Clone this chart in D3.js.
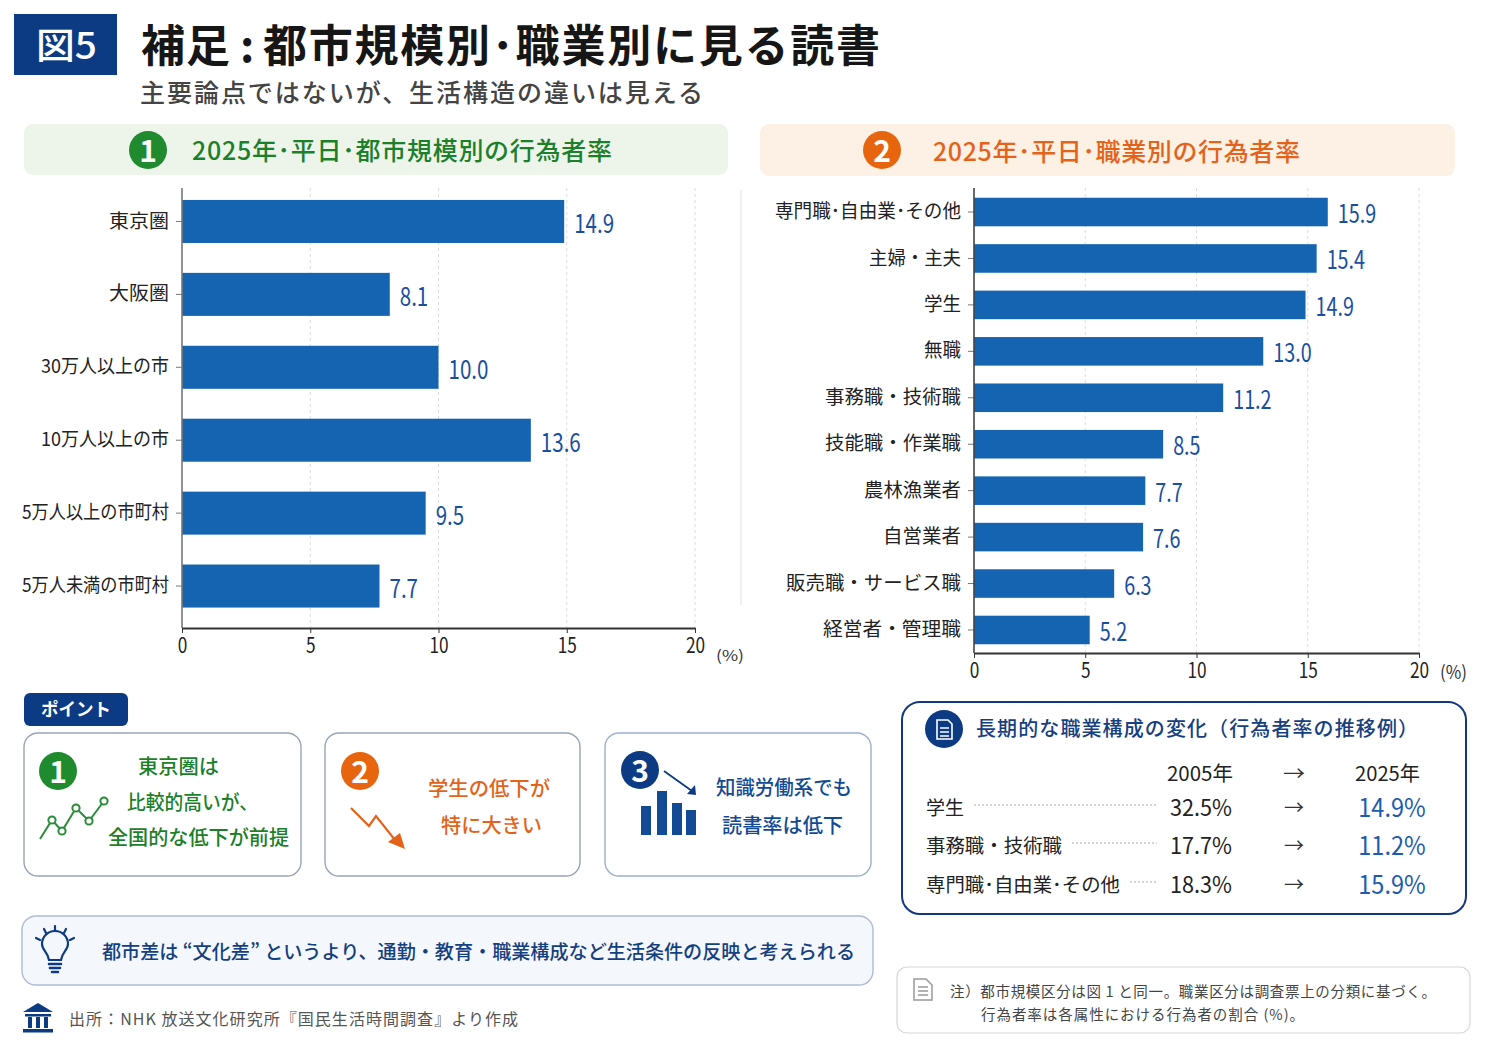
<!DOCTYPE html>
<html lang="ja">
<head>
<meta charset="utf-8">
<title>補足:都市規模別・職業別に見る読書</title>
<script src="https://cdn.jsdelivr.net/npm/d3@7"></script>
<style>
  html, body { margin: 0; padding: 0; background: #fff; }
  svg { display: block; }
  text { font-family: "Noto Sans CJK JP", "Noto Sans", sans-serif; }
</style>
</head>
<body>
<svg id="page" width="1491" height="1055" viewBox="0 0 1491 1055"></svg>
<script>
// 都市規模別の行為者率(2025年・平日)
const cityCategories = ["東京圏", "大阪圏", "30万人以上の市", "10万人以上の市", "5万人以上の市町村", "5万人未満の市町村"];
const cityValues = [14.9, 8.1, 10.0, 13.6, 9.5, 7.7];

// 職業別の行為者率(2025年・平日)
const jobCategories = ["専門職\uFF65自由業\uFF65その他", "主婦・主夫", "学生", "無職", "事務職・技術職", "技能職・作業職", "農林漁業者", "自営業者", "販売職・サービス職", "経営者・管理職"];
const jobValues = [15.9, 15.4, 14.9, 13.0, 11.2, 8.5, 7.7, 7.6, 6.3, 5.2];

const axisTicks = [0, 5, 10, 15, 20];

// 長期推移の表
const trendLabels = ["学生", "事務職・技術職", "専門職\uFF65自由業\uFF65その他"];
const trend2005 = [32.5, 17.7, 18.3];
const trend2025 = [14.9, 11.2, 15.9];

// 軸ラベルの表示幅(px)
const cityLabelWidths = [60, 60, 128, 128, 147, 147];
const jobLabelWidths = [186, 92, 37, 37, 136, 136, 97, 78, 175, 138];

const NAVY = "#0c3b84", BAR = "#1464b2", VALUE = "#1a4f9f", GREEN = "#1c7f2a", ORANGE = "#e4631a";

const svg = d3.select("#page");

// x1..x2 の幅に字幅を合わせるテキスト描画
function label(parent, text, x1, x2, cy, size, fill, weight, adjust) {
  return parent.append("text")
    .attr("x", x1).attr("y", cy - 1)
    .attr("dominant-baseline", "central")
    .attr("font-size", size).attr("font-weight", weight || 400)
    .attr("fill", fill)
    .attr("textLength", x2 - x1).attr("lengthAdjust", adjust || "spacingAndGlyphs")
    .text(text);
}
// 数字をやや縦長に見せるための字幅調整
function condense(sel, k) {
  sel.each(function () {
    const w = this.getComputedTextLength();
    d3.select(this).attr("textLength", w * k).attr("lengthAdjust", "spacingAndGlyphs");
  });
}
function badge(parent, cx, cy, r, fill, text, size) {
  parent.append("circle").attr("cx", cx).attr("cy", cy).attr("r", r).attr("fill", fill);
  parent.append("text").attr("x", cx).attr("y", cy - 1).attr("text-anchor", "middle")
    .attr("dominant-baseline", "central").attr("font-size", size).attr("font-weight", 700)
    .attr("fill", "#fff").text(text);
}
function box(parent, x, y, w, h, r, fill, stroke, sw) {
  parent.append("rect").attr("x", x).attr("y", y).attr("width", w).attr("height", h).attr("rx", r)
    .attr("fill", fill).attr("stroke", stroke).attr("stroke-width", sw);
}

/* 見出し */
svg.append("rect").attr("x", 14).attr("y", 14).attr("width", 103).attr("height", 61).attr("fill", NAVY);
label(svg, "図5", 36, 97, 44, 36, "#fff", 500);
label(svg, "補足", 141, 230, 44, 44, "#161616", 700, "spacing");
label(svg, ":", 240, 250, 44, 44, "#161616", 700, "spacing");
label(svg, "都市規模別\uFF65職業別に見る読書", 263, 880, 44, 44, "#161616", 700, "spacing");
label(svg, "主要論点ではないが、生活構造の違いは見える", 140, 703, 92, 25, "#444", 500, "spacing");

/* パネル見出し */
box(svg, 24, 124, 704, 51, 9, "#edf4ea", "none", 0);
badge(svg, 148, 150, 19, "#1f8a2e", "1", 30);
label(svg, "2025年\uFF65平日\uFF65都市規模別の行為者率", 192, 612, 150, 25, GREEN, 500, "spacing");
box(svg, 760, 124, 695, 52, 9, "#fdf0e4", "none", 0);
badge(svg, 882, 150, 19, "#e8650f", "2", 30);
label(svg, "2025年\uFF65平日\uFF65職業別の行為者率", 933, 1300, 151, 25, ORANGE, 500, "spacing");

svg.append("line").attr("x1", 741).attr("x2", 741).attr("y1", 190).attr("y2", 605)
  .attr("stroke", "#ebebeb").attr("stroke-width", 1.5);

/* 横棒グラフ */
function barChart(cfg) {
  const g = svg.append("g");
  const x = d3.scaleLinear().domain([0, 20]).range([cfg.x0, cfg.x1]);
  const y = d3.scaleBand().domain(cfg.categories).range([cfg.top, cfg.bottom])
    .paddingInner(cfg.padding).paddingOuter(cfg.padding / 2);

  g.append("g").selectAll("line").data(axisTicks.slice(1)).join("line")
    .attr("x1", d => x(d)).attr("x2", d => x(d))
    .attr("y1", cfg.axisTop).attr("y2", cfg.axisBottom)
    .attr("stroke", "#dcdcdc").attr("stroke-dasharray", "3 3");

  g.append("g").selectAll("rect").data(cfg.values).join("rect")
    .attr("x", x(0)).attr("y", (d, i) => y(cfg.categories[i]))
    .attr("width", d => x(d) - x(0)).attr("height", y.bandwidth())
    .attr("fill", BAR);

  const vals = g.append("g").selectAll("text").data(cfg.values).join("text")
    .attr("x", d => x(d) + 10)
    .attr("y", (d, i) => y(cfg.categories[i]) + y.bandwidth() / 2)
    .attr("dominant-baseline", "central")
    .attr("font-size", cfg.valueSize).attr("fill", VALUE)
    .text(d => d.toFixed(1));
  condense(vals, 0.79);

  const ya = g.append("g").attr("transform", `translate(${x(0)},0)`)
    .call(d3.axisLeft(y).tickSize(6).tickPadding(7));
  ya.select(".domain").remove();
  ya.selectAll(".tick line").attr("stroke", "#777");
  ya.selectAll(".tick text").attr("font-size", 19).attr("fill", "#222")
    .style("font-family", '"Noto Sans CJK JP", sans-serif')
    .attr("textLength", (d, i) => cfg.labelWidths[i]).attr("lengthAdjust", "spacingAndGlyphs");

  g.append("line").attr("x1", x(0)).attr("x2", x(0))
    .attr("y1", cfg.axisTop).attr("y2", cfg.axisBottom)
    .attr("stroke", cfg.spine).attr("stroke-width", 1.6);

  const xa = g.append("g").attr("transform", `translate(0,${cfg.axisBottom})`)
    .call(d3.axisBottom(x).tickValues(axisTicks).tickSize(5).tickPadding(5).tickSizeOuter(0));
  xa.select(".domain").attr("stroke", "#333").attr("stroke-width", 1.8);
  xa.selectAll(".tick line").attr("stroke", "#333");
  xa.selectAll(".tick text").attr("font-size", 21).attr("fill", "#222")
    .style("font-family", '"Noto Sans CJK JP", sans-serif');
  condense(xa.selectAll(".tick text"), 0.82);
}

barChart({
  categories: cityCategories, values: cityValues, labelWidths: cityLabelWidths,
  x0: 182, x1: 695, top: 185, bottom: 622.5, axisTop: 188, axisBottom: 628,
  padding: 0.41, valueSize: 26, spine: "#777"
});
barChart({
  categories: jobCategories, values: jobValues, labelWidths: jobLabelWidths,
  x0: 974, x1: 1419, top: 188.8, bottom: 653.2, axisTop: 188, axisBottom: 653,
  padding: 0.385, valueSize: 25, spine: "#444"
});
label(svg, "(%)", 716, 744, 655, 15, "#333");
label(svg, "(%)", 1440, 1467, 672, 18, "#333");

/* ポイント */
box(svg, 24, 693, 104, 33, 6, NAVY, "none", 0);
label(svg, "ポイント", 41, 111, 709, 18, "#fff", 700);

box(svg, 24, 733, 277, 143, 14, "#fff", "#98a4b6", 1.4);
box(svg, 325, 733, 255, 143, 14, "#fff", "#98a4b6", 1.4);
box(svg, 605, 733, 266, 143, 14, "#fff", "#9db0cc", 1.4);

badge(svg, 58, 771, 19, "#1f8a2e", "1", 30);
label(svg, "東京圏は", 138, 219, 766, 20, GREEN, 500);
label(svg, "比較的高いが、", 127, 258, 802, 20, GREEN, 500);
label(svg, "全国的な低下が前提", 108, 289, 837, 20, GREEN, 500);
// 折れ線のアイコン
const sparkIcon = [[40, 839], [52, 820], [62, 831], [76, 808], [89, 821], [104, 801]];
svg.append("path").attr("d", d3.line()(sparkIcon)).attr("fill", "none").attr("stroke", "#2a8c38").attr("stroke-width", 2);
svg.append("g").selectAll("circle").data(sparkIcon.slice(1)).join("circle")
  .attr("cx", d => d[0]).attr("cy", d => d[1]).attr("r", 3.6)
  .attr("fill", "#fff").attr("stroke", "#2a8c38").attr("stroke-width", 2);

badge(svg, 360, 771, 19, "#e8650f", "2", 30);
label(svg, "学生の低下が", 428, 550, 788, 20, ORANGE, 500);
label(svg, "特に大きい", 441, 542, 825, 20, ORANGE, 500);
svg.append("path").attr("d", "M351 808L369 826L376 816L395 840").attr("fill", "none").attr("stroke", ORANGE).attr("stroke-width", 2.2);
svg.append("path").attr("d", "M405 849L388 842L400 833Z").attr("fill", ORANGE);

badge(svg, 640, 770, 19, NAVY, "3", 30);
label(svg, "知識労働系でも", 716, 852, 787, 20, "#134a94", 500);
label(svg, "読書率は低下", 722, 843, 825, 20, "#134a94", 500);
svg.append("path").attr("d", "M664 771L692 791").attr("stroke", NAVY).attr("stroke-width", 1.8);
svg.append("path").attr("d", "M696 795L695 785L687 794Z").attr("fill", NAVY);
const barIcon = [[641, 806], [657, 791], [672, 803], [686, 810]];
svg.append("g").selectAll("rect").data(barIcon).join("rect")
  .attr("x", d => d[0]).attr("y", d => d[1]).attr("width", 10).attr("height", d => 835 - d[1]).attr("fill", "#134a94");

/* まとめの帯 */
box(svg, 22, 916, 851, 69, 14, "#f4f7fb", "#aebcd6", 1.4);
label(svg, "都市差は “文化差” というより、通勤・教育・職業構成など生活条件の反映と考えられる", 102, 855, 951, 19.5, "#15407f", 500);
const bulb = svg.append("g").attr("fill", "none").attr("stroke", NAVY).attr("stroke-width", 2.2).attr("stroke-linecap", "round");
bulb.append("path").attr("d", "M49 960C48 952 42 950 42 944A13 13 0 0 1 68 944C68 950 62 952 61 960Z");
bulb.append("path").attr("d", "M49 964H61M50 968H60M52 972H58").attr("stroke-width", 2.6);
bulb.append("path").attr("d", "M55 926V931M44 929L46 933M66 929L64 933M36 938L40 940M74 938L70 940");

/* 出所 */
const bank = svg.append("g").attr("fill", NAVY);
bank.append("path").attr("d", "M38 1003L53 1012H23Z");
bank.append("rect").attr("x", 23).attr("y", 1029).attr("width", 30).attr("height", 3.5);
bank.append("rect").attr("x", 25).attr("y", 1014).attr("width", 26).attr("height", 2.5);
[28, 36, 44].forEach(bx => bank.append("rect").attr("x", bx).attr("y", 1017).attr("width", 4).attr("height", 11));
label(svg, "出所\uFF1ANHK 放送文化研究所『国民生活時間調査』より作成", 69, 518, 1019, 16, "#555", 400, "spacing");

/* 推移の表 */
box(svg, 902, 702, 564, 212, 18, "#fff", "#12397f", 2);
svg.append("circle").attr("cx", 944).attr("cy", 729).attr("r", 19).attr("fill", NAVY);
const doc = svg.append("g").attr("fill", "none").attr("stroke", "#fff").attr("stroke-width", 1.6);
doc.append("path").attr("d", "M937 720H948L952 724V739H937Z");
doc.append("path").attr("d", "M940 728H949M940 732H949M940 736H949");
label(svg, "長期的な職業構成の変化\uFF08行為者率の推移例\uFF09", 976, 1418, 728, 20, "#15407f", 500, "spacing");

label(svg, "2005年", 1167, 1233, 773, 20, "#222");
label(svg, "→", 1283, 1305, 773, 20, "#333");
label(svg, "2025年", 1355, 1420, 773, 20, "#222");

const rowY = [806, 844, 883];
const labelEnd = [964, 1062, 1120];
const rows = svg.append("g").selectAll("g").data(trendLabels).join("g");
rows.append("text").attr("x", 926).attr("y", (d, i) => rowY[i]).attr("dominant-baseline", "central")
  .attr("font-size", 19).attr("fill", "#222")
  .attr("textLength", (d, i) => labelEnd[i] - 926).attr("lengthAdjust", "spacingAndGlyphs")
  .text(d => d);
rows.append("line").attr("x1", (d, i) => labelEnd[i] + 10).attr("x2", 1157)
  .attr("y1", (d, i) => rowY[i] - 1).attr("y2", (d, i) => rowY[i] - 1)
  .attr("stroke", "#aaa").attr("stroke-dasharray", "2 2");
const v2005 = rows.append("text").attr("x", 1201).attr("y", (d, i) => rowY[i]).attr("text-anchor", "middle")
  .attr("dominant-baseline", "central").attr("font-size", 23).attr("fill", "#222")
  .text((d, i) => trend2005[i].toFixed(1) + "%");
condense(v2005, 0.94);
rows.append("text").attr("x", 1294).attr("y", (d, i) => rowY[i]).attr("text-anchor", "middle")
  .attr("dominant-baseline", "central").attr("font-size", 20).attr("fill", "#333")
  .text("→");
const v2025 = rows.append("text").attr("x", 1392).attr("y", (d, i) => rowY[i]).attr("text-anchor", "middle")
  .attr("dominant-baseline", "central").attr("font-size", 25).attr("fill", "#1c5cae")
  .text((d, i) => trend2025[i].toFixed(1) + "%");
condense(v2025, 0.94);

/* 注記 */
box(svg, 897, 967, 573, 66, 10, "#fff", "#d6d6d6", 1.2);
const note = svg.append("g").attr("fill", "none").attr("stroke", "#999").attr("stroke-width", 1.5);
note.append("path").attr("d", "M914 979H926L932 985V1000H914Z");
note.append("path").attr("d", "M918 987H928M918 991H928M918 995H928");
label(svg, "注\uFF09都市規模区分は図 1 と同一。職業区分は調査票上の分類に基づく。", 950, 1436, 991, 14.5, "#444", 400, "spacing");
label(svg, "行為者率は各属性における行為者の割合 (%)。", 981, 1304, 1014, 14.5, "#444", 400, "spacing");
</script>
</body>
</html>
